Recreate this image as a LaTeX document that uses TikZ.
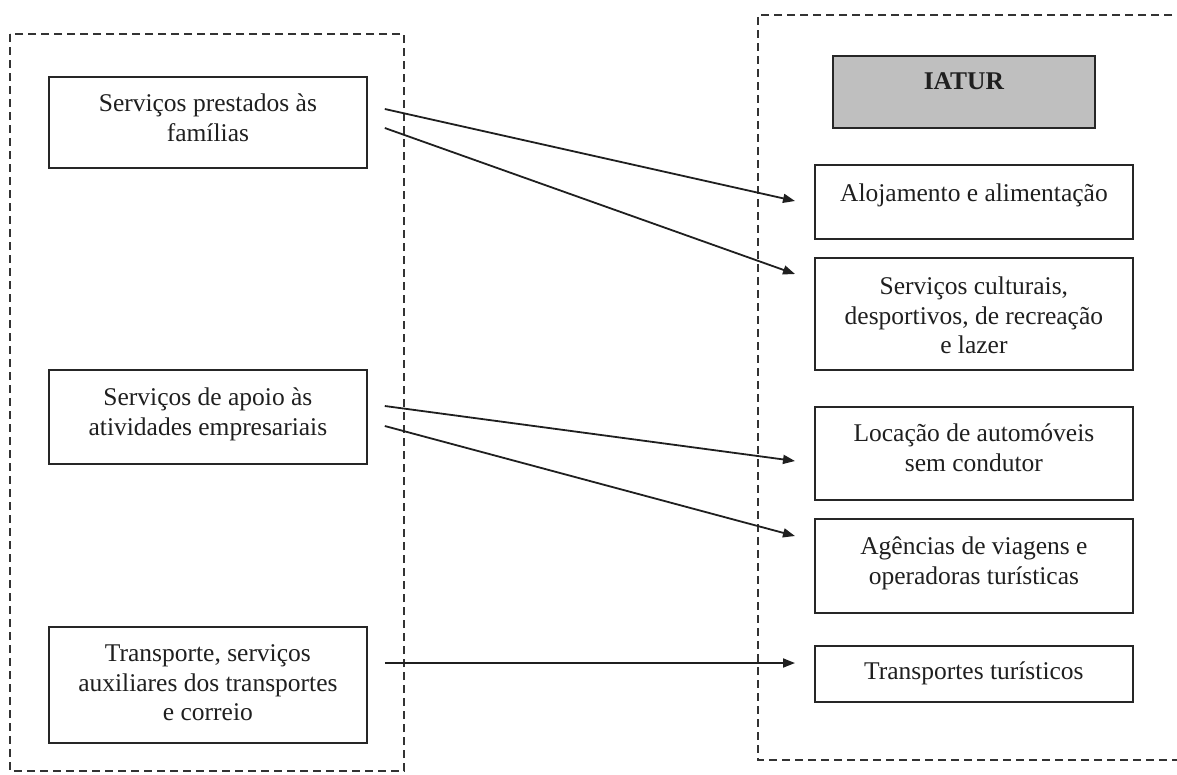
\documentclass[tikz,border=0pt]{standalone}
\usepackage{fontspec}
\setmainfont{Liberation Serif}
\usetikzlibrary{arrows.meta,calc}
\newcommand\boxtext[4]{\parbox[c][#2pt][t]{#1pt}{\centering\rule{0pt}{#3pt}#4\par}}
\begin{document}
\begin{tikzpicture}[x=1pt,y=-1pt,
  box/.style={draw=black!85, line width=1.8pt, inner sep=0pt, anchor=north west,
    font=\fontsize{25.5}{29.5}\selectfont, text=black!88},
  head/.style={box, fill=black!25, font=\fontsize{25.5}{29.5}\selectfont\bfseries},
  group/.style={draw=black!80, line width=1.7pt, dash pattern=on 8pt off 5pt},
  link/.style={draw=black!88, line width=1.8pt, -{Triangle[length=12pt,width=9pt]}},
]
\useasboundingbox (0,0) rectangle (1177,774);
\fill[white] (0,0) rectangle (1177,774);

% dashed groups
\draw[group] (10,34) rectangle (404,771);
\draw[group] (1185,15) -- (758,15) -- (758,760) -- (1185,760);

% left nodes
\node[box] (fam) at (48,76) {\boxtext{318}{91}{35}{Serviços prestados às\\famílias}};
\node[box] (apoio) at (48,369) {\boxtext{318}{94}{36}{Serviços de apoio às\\atividades empresariais}};
\node[box] (transp) at (48,626) {\boxtext{318}{116}{35}{Transporte, serviços\\auxiliares dos transportes\\e correio}};

% right nodes
\node[head] (iatur) at (832,55) {\boxtext{262}{72}{34}{IATUR}};
\node[box] (aloj) at (814,164) {\boxtext{318}{74}{37}{Alojamento e alimentação}};
\node[box] (cult) at (814,257) {\boxtext{318}{112}{37}{Serviços culturais,\\desportivos, de recreação\\e lazer}};
\node[box] (loc) at (814,406) {\boxtext{318}{93}{35}{Locação de automóveis\\sem condutor}};
\node[box] (ag) at (814,518) {\boxtext{318}{94}{36}{Agências de viagens e\\operadoras turísticas}};
\node[box] (tt) at (814,645) {\boxtext{318}{56}{34}{Transportes turísticos}};

% connectors
\draw[link] ($(fam.north east)+(17,33)$) -- ($(aloj.north west)+(-19,37)$);
\draw[link] ($(fam.north east)+(17,52)$) -- ($(cult.north west)+(-19,17)$);
\draw[link] ($(apoio.north east)+(17,37)$) -- ($(loc.north west)+(-19,55)$);
\draw[link] ($(apoio.north east)+(17,57)$) -- ($(ag.north west)+(-19,18)$);
\draw[link] ($(transp.north east)+(17,37)$) -- ($(tt.north west)+(-19,18)$);
\end{tikzpicture}
\end{document}
